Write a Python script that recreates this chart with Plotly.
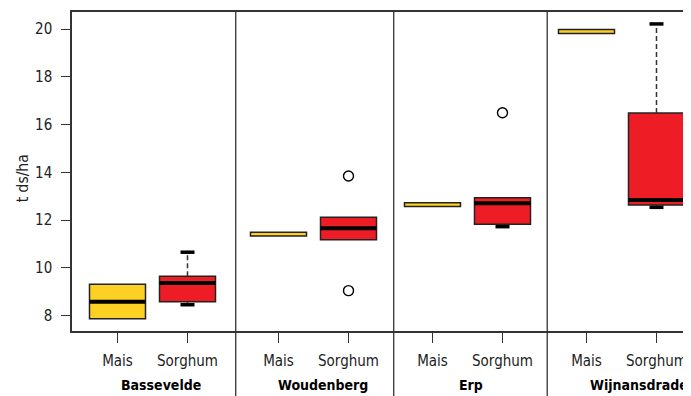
import plotly.graph_objects as go

# ---- data (t ds/ha) ----
sites = ["Bassevelde", "Woudenberg", "Erp", "Wijnansdrade"]
crops = ["Mais", "Sorghum"]

mais_q1 = [7.87, 11.34, 12.57, 19.82]
mais_med = [8.59, 11.42, 12.65, 19.90]
mais_q3 = [9.32, 11.50, 12.73, 19.99]

sorg_q1 = [8.59, 11.18, 11.83, 12.64]
sorg_med = [9.37, 11.66, 12.71, 12.85]
sorg_q3 = [9.65, 12.12, 12.94, 16.49]
sorg_lo = [8.46, None, 11.73, 12.54]
sorg_hi = [10.66, None, None, 20.22]
sorg_out = [[], [13.85, 9.05], [16.5], []]

y_ticks = [8, 10, 12, 14, 16, 18, 20]

# ---- layout helpers (positions / styles) ----
group_start = [0.0, 2.3, 4.5, 6.7]
separators = [1.689, 3.946, 6.139]
label_x = [0.62, 2.93, 5.05, 7.45]
mais_bold_median = [True, False, False, False]

YELLOW = "#FDD123"
RED = "#EE1C25"
EDGE = "#222222"
AX = "#333333"
FONT = "DejaVu Sans Condensed, Liberation Sans, Arial, sans-serif"
BW = 0.8
CAP = 0.1

fig = go.Figure()

mais_x = [g for g in group_start]
sorg_x = [g + 1 for g in group_start]

# boxes as bars from q1 to q3
fig.add_trace(go.Bar(x=mais_x, base=mais_q1,
                     y=[b - a for a, b in zip(mais_q1, mais_q3)],
                     width=BW, marker=dict(color=YELLOW, line=dict(color=EDGE, width=1.5)),
                     showlegend=False, hoverinfo="skip"))
fig.add_trace(go.Bar(x=sorg_x, base=sorg_q1,
                     y=[b - a for a, b in zip(sorg_q1, sorg_q3)],
                     width=BW, marker=dict(color=RED, line=dict(color=EDGE, width=1.5)),
                     showlegend=False, hoverinfo="skip"))

# whiskers (dashed) and caps
wx, wy, cx, cy = [], [], [], []
for x, q1, q3, lo, hi in zip(sorg_x, sorg_q1, sorg_q3, sorg_lo, sorg_hi):
    if hi is not None:
        wx += [x, x, None]; wy += [q3, hi, None]
        cx += [x - CAP, x + CAP, None]; cy += [hi, hi, None]
    if lo is not None:
        wx += [x, x, None]; wy += [q1, lo, None]
        cx += [x - CAP, x + CAP, None]; cy += [lo, lo, None]
fig.add_trace(go.Scatter(x=wx, y=wy, mode="lines",
                         line=dict(color=AX, width=1.5, dash="5px,3px"),
                         showlegend=False, hoverinfo="skip"))
fig.add_trace(go.Scatter(x=cx, y=cy, mode="lines",
                         line=dict(color="black", width=3.5),
                         showlegend=False, hoverinfo="skip"))

# medians (thick)
mx, my = [], []
for x, m, bold in zip(mais_x, mais_med, mais_bold_median):
    if bold:
        mx += [x - BW / 2, x + BW / 2, None]; my += [m, m, None]
for x, m in zip(sorg_x, sorg_med):
    mx += [x - BW / 2, x + BW / 2, None]; my += [m, m, None]
fig.add_trace(go.Scatter(x=mx, y=my, mode="lines",
                         line=dict(color="black", width=4),
                         showlegend=False, hoverinfo="skip"))

# outliers
ox, oy = [], []
for x, outs in zip(sorg_x, sorg_out):
    for v in outs:
        ox.append(x); oy.append(v)
fig.add_trace(go.Scatter(x=ox, y=oy, mode="markers",
                         marker=dict(symbol="circle-open", size=10,
                                     color="black", line=dict(width=1.4)),
                         showlegend=False, hoverinfo="skip"))

tickvals, ticktext = [], []
for g in group_start:
    tickvals += [g, g + 1]
    ticktext += crops

shapes = [dict(type="line", xref="x", yref="paper", x0=s, x1=s, y0=-0.23, y1=1,
               line=dict(color=AX, width=1.3)) for s in separators]

annotations = [dict(text=f"<b>{s}</b>", x=lx, xref="x", y=-0.169, yref="paper",
                    showarrow=False, xanchor="center", yanchor="middle",
                    font=dict(family=FONT, size=14, color="black"))
               for s, lx in zip(sites, label_x)]
annotations.append(dict(text="t ds/ha", x=-0.0800, xref="paper", y=0.48, yref="paper",
                        textangle=-90, showarrow=False, xanchor="center", yanchor="middle",
                        font=dict(family=FONT, size=15.5, color="#222")))

fig.update_layout(
    width=683, height=388,
    margin=dict(l=64, r=0, t=4, b=65),
    paper_bgcolor="white", plot_bgcolor="white",
    barmode="overlay",
    font=dict(family=FONT, size=15, color="#222"),
    shapes=shapes, annotations=annotations,
    xaxis=dict(range=[-0.65, 8.193], tickvals=tickvals, ticktext=ticktext,
               showline=True, mirror=True, linecolor=AX, linewidth=1.5,
               ticks="outside", ticklen=10, tickwidth=1.3, tickcolor=AX,
               ticklabelstandoff=5,
               showgrid=False, zeroline=False),
    yaxis=dict(range=[7.36, 20.72], tickvals=y_ticks,
               showline=True, linecolor=AX, linewidth=1.5,
               ticks="outside", ticklen=9, tickwidth=1.3, tickcolor=AX,
               ticklabelstandoff=6,
               showgrid=False, zeroline=False),
)

fig.write_html("out.html")
